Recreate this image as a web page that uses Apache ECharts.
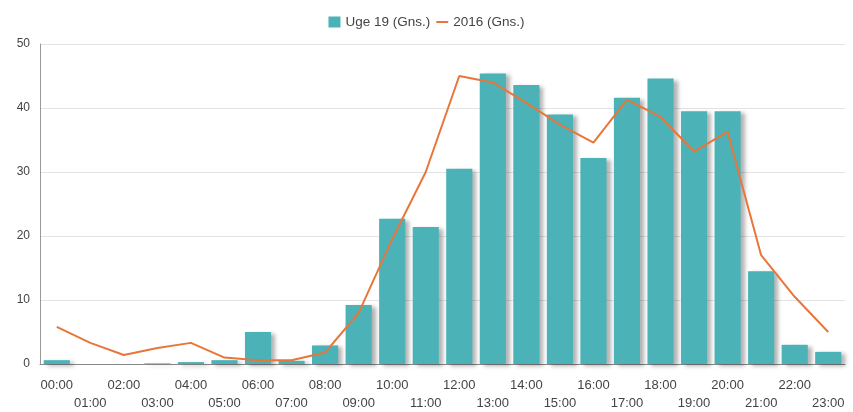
<!DOCTYPE html>
<html><head><meta charset="utf-8">
<script src="https://cdn.jsdelivr.net/npm/echarts@6/dist/echarts.min.js"></script>
<style>html,body{margin:0;padding:0;background:#fff}#c{width:853px;height:412px}</style>
</head><body><div id="c"></div>
<script>
var categories = ['00:00','01:00','02:00','03:00','04:00','05:00','06:00','07:00','08:00','09:00','10:00','11:00','12:00','13:00','14:00','15:00','16:00','17:00','18:00','19:00','20:00','21:00','22:00','23:00'];
var uge19 = [0.6,0,0,0.1,0.3,0.6,5,0.5,2.9,9.2,22.7,21.4,30.5,45.4,43.6,39,32.2,41.6,44.6,39.5,39.5,14.5,3,1.9];
var y2016 = [5.8,3.3,1.4,2.5,3.3,1.0,0.6,0.6,1.8,8,19.5,30,45,44,40.8,37.4,34.6,41.3,38.6,33.2,36.3,17,10.5,5];
var chart = echarts.init(document.getElementById('c'));
chart.setOption({
  animation:false,
  legend:{top:10,left:'center',itemWidth:12,itemHeight:11,itemGap:6,
    textStyle:{fontFamily:'Liberation Sans, Arial',fontSize:13.5,color:'#444'},
    data:[{name:'Uge 19 (Gns.)',icon:'rect'},{name:'2016 (Gns.)',icon:'path://M0,0 L12,0 L12,2 L0,2 Z'}]},
  grid:{left:40,right:8,top:44,bottom:47},
  xAxis:{type:'category',data:categories,
    axisLine:{lineStyle:{color:'#888'}},axisTick:{show:false},
    axisLabel:{interval:0,color:'#444',fontFamily:'Liberation Sans, Arial',fontSize:13,margin:12,lineHeight:18,
      formatter:function(v,i){return i%2? '\n'+v : v;}}},
  yAxis:{type:'value',min:0,max:50,interval:10,
    axisLine:{show:true,lineStyle:{color:'#999'}},axisTick:{show:false},
    splitLine:{lineStyle:{color:'#e3e3e3'}},
    axisLabel:{color:'#444',fontFamily:'Liberation Sans, Arial',fontSize:12,margin:10}},
  series:[
    {name:'Uge 19 (Gns.)',type:'bar',data:uge19,barCategoryGap:'22%',
     itemStyle:{color:'#4bb2b7',shadowColor:'rgba(0,0,0,0.3)',shadowBlur:4,shadowOffsetX:4,shadowOffsetY:2}},
    {name:'2016 (Gns.)',type:'line',data:y2016,symbol:'none',
     lineStyle:{color:'#e8763a',width:2},itemStyle:{color:'#e8763a'}}
  ]
});
</script></body></html>
